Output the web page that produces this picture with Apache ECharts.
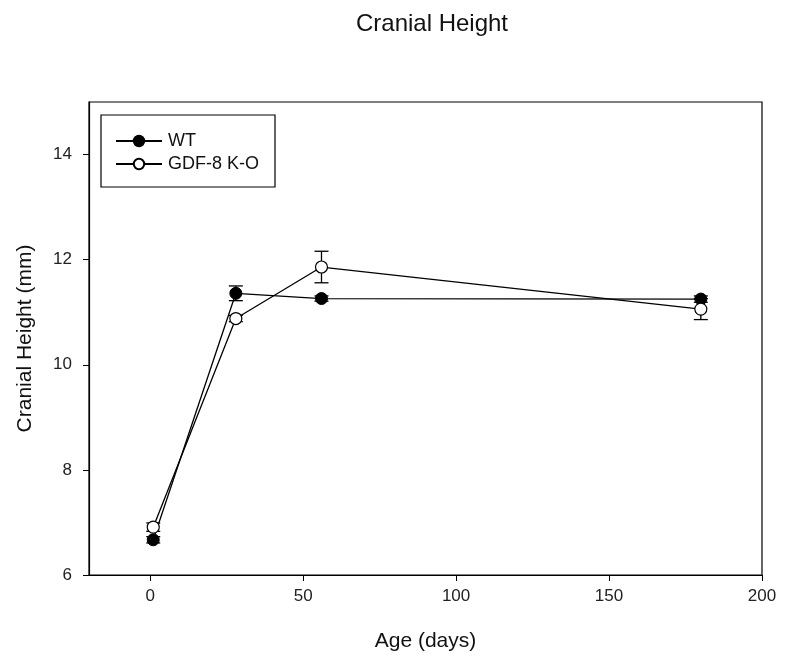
<!DOCTYPE html>
<html>
<head>
<meta charset="utf-8">
<script src="https://cdn.jsdelivr.net/npm/echarts@6/dist/echarts.min.js"></script>
<style>
html,body{margin:0;padding:0;background:#fff;}
#c{width:785px;height:660px;}
</style>
</head>
<body>
<div id="c"></div>
<script>
const ages = [1, 28, 56, 180];
const wtMean = [6.67, 11.36, 11.26, 11.25];
const wtErr = [0.06, 0.14, 0.05, 0.06];
const koMean = [6.91, 10.88, 11.86, 11.06];
const koErr = [0.08, 0.06, 0.30, 0.20];
const xTicks = [0, 50, 100, 150, 200];
const yTicks = [6, 8, 10, 12, 14];

const chart = echarts.init(document.getElementById('c'));
const font = 'Liberation Sans, Arial, sans-serif';

function errData(mean, err) {
  return ages.map((a, i) => [a, mean[i] - err[i], mean[i] + err[i]]);
}
function errRender(params, api) {
  const x = api.value(0);
  const lo = api.coord([x, api.value(1)]);
  const hi = api.coord([x, api.value(2)]);
  const hw = 7;
  const st = { stroke: '#000', lineWidth: 1.3 };
  return {
    type: 'group',
    children: [
      { type: 'line', shape: { x1: lo[0], y1: lo[1], x2: hi[0], y2: hi[1] }, style: st },
      { type: 'line', shape: { x1: lo[0] - hw, y1: lo[1], x2: lo[0] + hw, y2: lo[1] }, style: st },
      { type: 'line', shape: { x1: hi[0] - hw, y1: hi[1], x2: hi[0] + hw, y2: hi[1] }, style: st }
    ]
  };
}

chart.setOption({
  animation: false,
  backgroundColor: '#fff',
  title: {
    text: 'Cranial Height',
    left: 427, top: 7, textAlign: 'center',
    textStyle: { fontFamily: font, fontSize: 24, fontWeight: 'normal', color: '#111' }
  },
  legend: {
    orient: 'vertical',
    left: 110, top: 127,
    itemWidth: 46, itemHeight: 13, itemGap: 5,
    textStyle: { fontFamily: font, fontSize: 18, color: '#111', padding: [0, 0, 0, 1] },
    data: ['WT', 'GDF-8 K-O']
  },
  graphic: [{
    type: 'rect',
    shape: { x: 101, y: 115, width: 174, height: 72 },
    style: { fill: 'none', stroke: '#000', lineWidth: 1.2 },
    z: 100
  }],
  grid: {
    left: 89, right: 23, top: 102, bottom: 85,
    show: true, borderColor: '#000', borderWidth: 1.2, backgroundColor: '#fff'
  },
  xAxis: {
    type: 'value', min: -20, max: 200,
    name: 'Age (days)', nameLocation: 'middle', nameGap: 56,
    nameTextStyle: { fontFamily: font, fontSize: 21, color: '#111' },
    axisLine: { show: true, onZero: false, lineStyle: { color: '#000', width: 1.2 } },
    axisTick: { show: true, length: 6, customValues: xTicks, lineStyle: { color: '#000' } },
    axisLabel: { customValues: xTicks, fontFamily: font, fontSize: 17, color: '#222', margin: 13 },
    splitLine: { show: false }
  },
  yAxis: {
    type: 'value', min: 6, max: 15,
    name: 'Cranial Height (mm)', nameLocation: 'middle', nameGap: 53,
    nameTextStyle: { fontFamily: font, fontSize: 21, color: '#111' },
    axisLine: { show: true, onZero: false, lineStyle: { color: '#000', width: 1.2 } },
    axisTick: { show: true, length: 6, customValues: yTicks, lineStyle: { color: '#000' } },
    axisLabel: { customValues: yTicks, fontFamily: font, fontSize: 17, color: '#222', margin: 17 },
    splitLine: { show: false }
  },
  series: [
    {
      name: 'WT', type: 'line',
      data: ages.map((a, i) => [a, wtMean[i]]),
      symbol: 'circle', symbolSize: 12,
      lineStyle: { color: '#000', width: 1.3 },
      itemStyle: { color: '#000', borderColor: '#000', borderWidth: 1 },
      z: 3
    },
    {
      name: 'GDF-8 K-O', type: 'line',
      data: ages.map((a, i) => [a, koMean[i]]),
      symbol: 'circle', symbolSize: 12,
      lineStyle: { color: '#000', width: 1.3 },
      itemStyle: { color: '#fff', borderColor: '#000', borderWidth: 1.2 },
      z: 3
    },
    {
      type: 'custom', renderItem: errRender, data: errData(wtMean, wtErr), z: 2,
      encode: { x: 0, y: [1, 2] }, silent: true
    },
    {
      type: 'custom', renderItem: errRender, data: errData(koMean, koErr), z: 2,
      encode: { x: 0, y: [1, 2] }, silent: true
    }
  ]
});
</script>
</body>
</html>
